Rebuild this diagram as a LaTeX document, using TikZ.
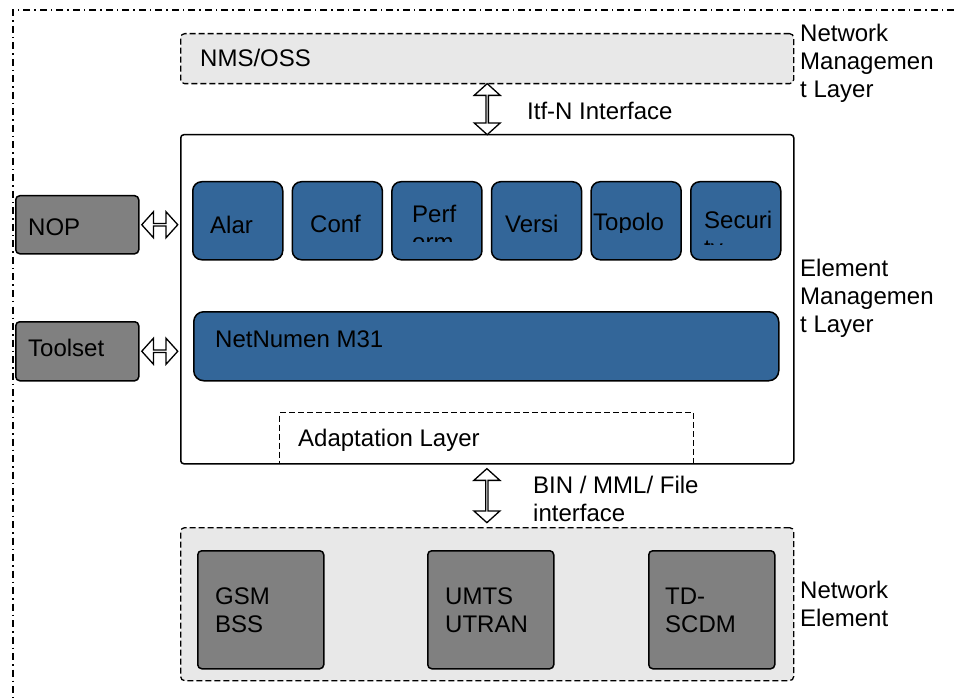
\documentclass[tikz,border=0pt]{standalone}
\usepackage{fontspec}
\setmainfont{Liberation Sans}
\usetikzlibrary{shapes.arrows,calc}
\definecolor{modblue}{HTML}{336699}
\definecolor{boxgray}{HTML}{808080}
\definecolor{layergray}{HTML}{E8E8E8}
\newcommand{\lblfont}{\fontsize{24}{28}\selectfont}
\tikzset{
  layerbox/.style={draw, line width=1.3pt, dash pattern=on 6pt off 3pt, fill=layergray, rounded corners=4pt, anchor=north west},
  modbox/.style={draw, line width=1.5pt, fill=modblue, rounded corners=9pt, anchor=north west, minimum width=90pt, minimum height=78pt},
  nebox/.style={draw, line width=1.5pt, fill=boxgray, rounded corners=4pt, anchor=north west},
  lbl/.style={font=\lblfont, inner sep=0pt, anchor=base west, align=left},
  dblarrow/.style={double arrow, draw, fill=white, line width=1.3pt, minimum width=26pt, double arrow head extend=6.5pt, double arrow tip angle=96, inner sep=0pt}
}
\begin{document}
\begin{tikzpicture}[x=1pt,y=-1pt]
  \useasboundingbox (0,0) rectangle (954,698);
  % cornice esterna
  \draw[line width=1.3pt, dash pattern=on 7pt off 4pt on 1.5pt off 4pt] (954,10) -- (13,10) -- (13,698);
  % livello di gestione della rete (base = ultima riga)
  \node[layerbox, minimum width=613pt, minimum height=50pt] (nms) at (180,33) {};
  \node[lbl] (nms-t) at (200,66.6) {NMS/OSS};
  \node[lbl] (nml-t) at (800,97.6) {Network\\Managemen\\t Layer};
  % livello di gestione degli elementi
  \node[draw, line width=1.5pt, rounded corners=3pt, anchor=north west, minimum width=613pt, minimum height=329pt] (em) at (180,134) {};
  \node[dblarrow, rotate=90, minimum height=51pt] (itf) at ($(nms.south)!0.5!(em.north)$) {};
  \node[lbl] (itf-t) at (527,119.6) {Itf-N Interface};
  \node[lbl] (eml-t) at (800,332.6) {Element\\Managemen\\t Layer};
  % moduli
  \foreach \nm [count=\i from 0] in {alar,conf,perf,versi,topo,secu}
    \node[modbox] (\nm) at (192+99.6*\i,181) {};
  \node[lbl] (alar-t) at (210,233.6) {Alar};
  \node[lbl] (conf-t) at (310,233) {Conf};
  \begin{scope}
    \clip (391,185) rectangle (481,241);
    \node[lbl] (perf-t) at (412,250.6) {Perf\\orm};
  \end{scope}
  \node[lbl] (versi-t) at (505,232.6) {Versi};
  \begin{scope}
    \clip (590,185) rectangle (680,232.5);
    \node[lbl] (topo-t) at (593,230.6) {Topolo};
  \end{scope}
  \begin{scope}
    \clip (690,185) rectangle (781,244);
    \node[lbl] (secu-t) at (704,256.6) {Securi\\ty};
  \end{scope}
  \node[modbox, minimum width=585pt, minimum height=69pt, rounded corners=10pt] (nn) at (193,311) {};
  \node[lbl] (nn-t) at (215,347) {NetNumen M31};
  % strumenti esterni
  \node[nebox, minimum width=123pt, minimum height=58pt] (nop) at (15,195) {};
  \node[lbl] (nop-t) at (28,235.6) {NOP};
  \node[nebox, minimum width=123pt, minimum height=59pt] (tool) at (15,321) {};
  \node[lbl] (tool-t) at (28,356.6) {Toolset};
  \node[dblarrow, minimum height=36pt] (nop-a) at ($(nop.east)!0.5!(nop.east-|em.west)$) {};
  \node[dblarrow, minimum height=36pt] (tool-a) at ($(tool.east)!0.5!(tool.east-|em.west)$) {};
  % adattamento
  \node[draw, line width=1.3pt, dash pattern=on 6pt off 3pt, anchor=north west, minimum width=414pt, minimum height=51pt] (adapt) at (279,412) {};
  \node[lbl] (adapt-t) at (298,446.6) {Adaptation Layer};
  % elementi di rete
  \node[layerbox, minimum width=613pt, minimum height=153pt] (ne) at (180,527) {};
  \node[dblarrow, rotate=90, minimum height=54pt] (bin) at ($(adapt.south)!0.5!(ne.north)$) {};
  \node[lbl] (bin-t) at (533,521.6) {BIN / MML/ File\\interface};
  \node[nebox, minimum width=126pt, minimum height=118pt] (gsm) at (197,550) {};
  \node[nebox, minimum width=126pt, minimum height=118pt] (umts) at (427,550) {};
  \node[nebox, minimum width=126pt, minimum height=118pt] (td) at (648,550) {};
  \node[lbl] (gsm-t) at (215,632.6) {GSM\\BSS};
  \node[lbl] (umts-t) at (445,632.6) {UMTS\\UTRAN};
  \node[lbl] (td-t) at (665,632.6) {TD-\\SCDM};
  \node[lbl] (nel-t) at (800,626.6) {Network\\Element};
\end{tikzpicture}
\end{document}
